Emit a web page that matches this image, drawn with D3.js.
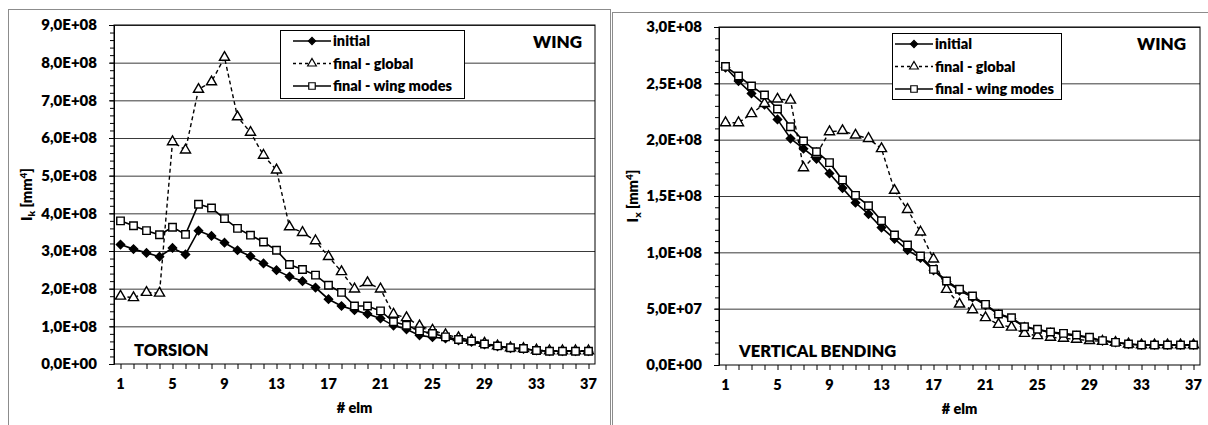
<!DOCTYPE html>
<html>
<head>
<meta charset="utf-8">
<script src="https://cdn.jsdelivr.net/npm/d3@7"></script>
<style>
  body { margin: 0; background: #fff; }
  svg { display: block; font-family: Lato, "Open Sans", sans-serif; font-weight: 800; }
</style>
</head>
<body>
<svg id="chart" width="1208" height="425"></svg>
<script>
// element numbers along the wing
const elm = [1,2,3,4,5,6,7,8,9,10,11,12,13,14,15,16,17,18,19,20,21,22,23,24,25,26,27,28,29,30,31,32,33,34,35,36,37];
const xTickLabels = [1,5,9,13,17,21,25,29,33,37];
const seriesNames = ['initial', 'final - global', 'final - wing modes'];

// torsion, values in 1e8 mm^4
const torsionInitial = [3.17,3.05,2.95,2.85,3.08,2.91,3.54,3.40,3.22,3.02,2.86,2.67,2.49,2.32,2.20,2.03,1.72,1.54,1.43,1.33,1.21,1.02,0.92,0.76,0.71,0.68,0.63,0.59,0.52,0.47,0.42,0.40,0.36,0.34,0.34,0.34,0.34];
const torsionGlobal = [1.80,1.76,1.90,1.88,5.90,5.68,7.29,7.49,8.14,6.56,6.15,5.54,5.15,3.64,3.49,3.27,2.85,2.45,1.99,2.16,1.99,1.32,1.23,1.01,0.90,0.78,0.70,0.63,0.55,0.48,0.43,0.41,0.37,0.35,0.35,0.35,0.35];
const torsionWing = [3.80,3.67,3.54,3.43,3.63,3.44,4.24,4.14,3.86,3.60,3.42,3.24,3.02,2.64,2.51,2.36,2.09,1.90,1.54,1.54,1.41,1.12,1.03,0.88,0.81,0.72,0.65,0.61,0.53,0.48,0.43,0.41,0.36,0.34,0.34,0.34,0.34];
const torsionYTicks = [0,1,2,3,4,5,6,7,8,9];
const torsionYLabels = ['0,0E+00','1,0E+08','2,0E+08','3,0E+08','4,0E+08','5,0E+08','6,0E+08','7,0E+08','8,0E+08','9,0E+08'];

// vertical bending, values in 1e8 mm^4
const bendingInitial = [2.64,2.52,2.41,2.31,2.18,2.01,1.92,1.83,1.70,1.57,1.44,1.34,1.22,1.12,1.02,0.95,0.84,0.74,0.66,0.60,0.53,0.45,0.41,0.34,0.31,0.29,0.27,0.26,0.24,0.215,0.20,0.185,0.178,0.178,0.178,0.178,0.178];
const bendingGlobal = [2.15,2.15,2.23,2.32,2.36,2.35,1.75,1.87,2.07,2.08,2.04,2.01,1.92,1.55,1.38,1.18,0.94,0.67,0.54,0.49,0.42,0.36,0.335,0.28,0.26,0.246,0.237,0.228,0.216,0.21,0.20,0.186,0.178,0.178,0.178,0.178,0.178];
const bendingWing = [2.65,2.565,2.476,2.396,2.272,2.115,1.988,1.893,1.796,1.642,1.506,1.414,1.281,1.154,1.065,0.967,0.849,0.746,0.672,0.612,0.538,0.453,0.420,0.340,0.317,0.293,0.281,0.266,0.246,0.216,0.201,0.186,0.178,0.178,0.178,0.178,0.178];
const bendingYTicks = [0,0.5,1,1.5,2,2.5,3];
const bendingYLabels = ['0,0E+00','5,0E+07','1,0E+08','1,5E+08','2,0E+08','2,5E+08','3,0E+08'];

const svg = d3.select('#chart');

function drawChart(o) {
  const g = svg.append('g');

  // outer chart frame
  g.append('rect')
    .attr('x', o.box[0] + 0.5).attr('y', o.box[1] + 0.5)
    .attr('width', o.box[2]).attr('height', o.box[3])
    .attr('fill', '#fff').attr('stroke', '#8c8c8c');

  const x = d3.scaleBand().domain(elm).range([o.left, o.right]);
  const xEdge = d3.scaleLinear().domain([0.5, 37.5]).range([o.left, o.right]);
  const y = d3.scaleLinear().domain([0, o.yMax]).range([o.bottom, o.top]);
  const cx = d => x(d) + x.bandwidth() / 2;

  // horizontal grid
  const grid = g.append('g')
    .attr('transform', `translate(${o.left},0)`)
    .call(d3.axisLeft(y).tickValues(o.yTicks.slice(1)).tickSize(-(o.right - o.left)).tickFormat(''));
  grid.select('.domain').remove();
  grid.selectAll('line').attr('stroke', '#3a3a3a');

  // plot frame
  g.append('rect')
    .attr('x', o.left).attr('y', o.top)
    .attr('width', o.right - o.left).attr('height', o.bottom - o.top)
    .attr('fill', 'none').attr('stroke', '#000');

  // y axis: minor ticks, major ticks with labels
  const yMinor = g.append('g')
    .attr('transform', `translate(${o.left},0)`)
    .call(d3.axisLeft(y).ticks(o.minorCount).tickSize(4).tickFormat(''));
  yMinor.select('.domain').remove();

  const yAxis = g.append('g')
    .attr('transform', `translate(${o.left},0)`)
    .call(d3.axisLeft(y).tickValues(o.yTicks).tickSize(5).tickPadding(12)
      .tickFormat((d, i) => o.yLabels[i]));
  yAxis.select('.domain').attr('stroke', '#000');
  yAxis.selectAll('text')
    .attr('font-family', 'Lato, sans-serif').attr('font-weight', 800)
    .attr('font-size', 15).attr('fill', '#000');

  // x axis: tick marks between categories, labels every 4th element
  const xTicks = g.append('g')
    .attr('transform', `translate(0,${o.bottom})`)
    .call(d3.axisBottom(xEdge).ticks(37).tickSize(5).tickFormat(''));
  xTicks.select('.domain').remove();

  const xAxis = g.append('g')
    .attr('transform', `translate(0,${o.bottom})`)
    .call(d3.axisBottom(x).tickValues(xTickLabels).tickSize(0).tickPadding(15));
  xAxis.select('.domain').remove();
  xAxis.selectAll('text')
    .attr('font-family', 'Lato, sans-serif').attr('font-weight', 800)
    .attr('font-size', 14.5).attr('fill', '#000');

  // axis titles
  g.append('text')
    .attr('x', (o.left + o.right) / 2).attr('y', o.bottom + 49)
    .attr('text-anchor', 'middle').attr('font-size', 14.5)
    .text('# elm');

  const yt = g.append('text')
    .attr('transform', `translate(${o.yTitleX},${(o.top + o.bottom) / 2}) rotate(-90)`)
    .attr('text-anchor', 'middle').attr('font-size', 14.5);
  yt.append('tspan').text('I');
  yt.append('tspan').attr('font-size', 10).attr('dy', 3).text(o.sub);
  yt.append('tspan').attr('dy', -3).text('  [mm');
  yt.append('tspan').attr('font-size', 10).attr('dy', -5).text('4');
  yt.append('tspan').attr('dy', 5).text(']');

  // series
  const series = [
    { name: seriesNames[0], values: o.initial, dash: null, marker: 'diamond' },
    { name: seriesNames[1], values: o.global, dash: '4,3', marker: 'triangle' },
    { name: seriesNames[2], values: o.wing, dash: null, marker: 'square' }
  ];

  const symbols = {
    diamond: { type: d3.symbolSquare, size: 34, rot: 45, fill: '#000' },
    triangle: { type: d3.symbolTriangle, size: 44, rot: 0, fill: '#fff' },
    square: { type: d3.symbolSquare, size: 56, rot: 0, fill: '#fff' }
  };

  const line = d3.line().x((d, i) => cx(elm[i])).y(d => y(d));

  series.forEach(s => {
    const sym = symbols[s.marker];
    g.append('path')
      .datum(s.values)
      .attr('d', line)
      .attr('fill', 'none')
      .attr('stroke', '#000')
      .attr('stroke-width', s.dash ? 1.4 : 1.6)
      .attr('stroke-dasharray', s.dash);
    g.append('g').selectAll('path')
      .data(s.values)
      .join('path')
      .attr('d', d3.symbol().type(sym.type).size(sym.size))
      .attr('transform', (d, i) => `translate(${cx(elm[i])},${y(d)}) rotate(${sym.rot})`)
      .attr('fill', sym.fill)
      .attr('stroke', '#000')
      .attr('stroke-width', 1.4);
  });

  // legend
  const L = o.legend;
  const lg = g.append('g').attr('transform', `translate(${L.x},${L.y})`);
  lg.append('rect')
    .attr('x', 0.5).attr('y', 0.5)
    .attr('width', L.w).attr('height', L.h)
    .attr('fill', '#fff').attr('stroke', '#000');
  series.forEach((s, i) => {
    const sym = symbols[s.marker];
    const ly = 11 + i * 22.5;
    lg.append('line')
      .attr('x1', L.lineX).attr('x2', L.lineX + 38).attr('y1', ly).attr('y2', ly)
      .attr('stroke', '#000').attr('stroke-width', 1.5)
      .attr('stroke-dasharray', s.dash ? '3,3' : null);
    lg.append('path')
      .attr('d', d3.symbol().type(sym.type).size(sym.size * 0.75))
      .attr('transform', `translate(${L.lineX + 19},${ly}) rotate(${sym.rot})`)
      .attr('fill', sym.fill).attr('stroke', '#000').attr('stroke-width', 1.2);
    lg.append('text')
      .attr('x', L.lineX + 40).attr('y', ly + 5)
      .attr('font-size', 14.5)
      .text(s.name);
  });

  // chart captions
  g.append('text')
    .attr('x', o.wingX).attr('y', o.top + 23)
    .attr('text-anchor', 'end').attr('font-size', 17)
    .text('WING');
  g.append('text')
    .attr('x', o.left + 20).attr('y', o.bottom - 8)
    .attr('font-size', 16.5)
    .text(o.caption);
}

drawChart({
  box: [8, 9, 602, 430],
  left: 114, right: 595, top: 25, bottom: 364,
  yMax: 9, yTicks: torsionYTicks, yLabels: torsionYLabels, minorCount: 45,
  yTitleX: 32, sub: 'k',
  initial: torsionInitial, global: torsionGlobal, wing: torsionWing,
  legend: { x: 280, y: 30, w: 184, h: 68, lineX: 13 },
  wingX: 582, caption: 'TORSION'
});

drawChart({
  box: [612, 12, 610, 430],
  left: 719, right: 1200, top: 27, bottom: 365,
  yMax: 3, yTicks: bendingYTicks, yLabels: bendingYLabels, minorCount: 30,
  yTitleX: 638, sub: 'x',
  initial: bendingInitial, global: bendingGlobal, wing: bendingWing,
  legend: { x: 892, y: 33, w: 169, h: 66, lineX: 3 },
  wingX: 1186, caption: 'VERTICAL BENDING'
});
</script>
</body>
</html>
